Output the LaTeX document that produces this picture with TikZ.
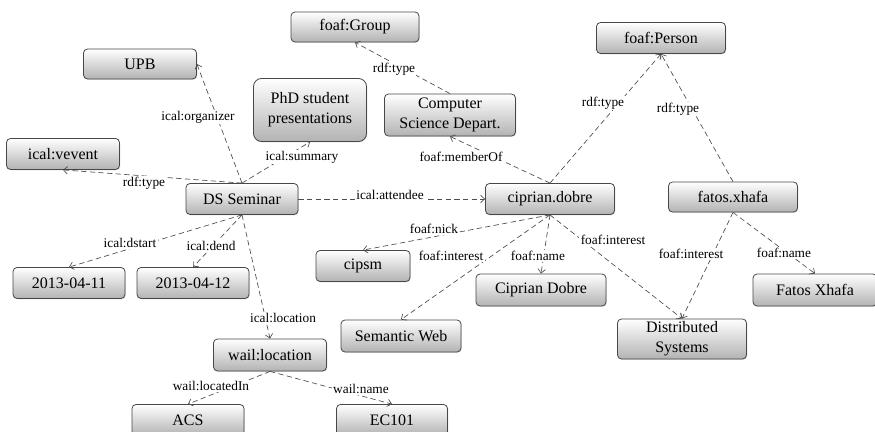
\documentclass[tikz,border=0pt]{standalone}
\usepackage{fontspec}
\setmainfont{Liberation Serif}
\usetikzlibrary{arrows.meta,shadows}
\tikzset{
  box/.style={draw=black!72, line width=0.6pt, rounded corners=3pt,
    top color=white, bottom color=black!30, align=center, inner sep=0pt,
    font=\fontsize{12}{15}\selectfont,
    drop shadow={opacity=0.25, shadow xshift=0.6pt, shadow yshift=-0.6pt}},
  lbl/.style={fill=white, inner sep=1pt, font=\fontsize{10}{11}\selectfont},
  link/.style={draw=black!70, line width=0.5pt, dash pattern=on 4pt off 2.5pt,
    -{Straight Barb[length=3pt,width=5.5pt]}},
}
\begin{document}
\begin{tikzpicture}[x=0.75pt,y=-0.75pt]
\useasboundingbox (0,0) rectangle (875,432);

% resources and literals
\node[box, minimum width=96pt, minimum height=22.5pt] (group) at (355,27) {foaf:Group};
\node[box, minimum width=84.75pt, minimum height=22.5pt] (upb) at (140,64) {UPB};
\node[box, rounded corners=6pt, minimum width=84.75pt, minimum height=47.25pt] (phd) at (310,110) {PhD student\\presentations};
\node[box, minimum width=98.25pt, minimum height=31.5pt] (cs) at (450,115) {Computer\\Science Depart.};
\node[box, minimum width=84.75pt, minimum height=23.25pt] (vevent) at (63,154) {ical:vevent};
\node[box, minimum width=84pt, minimum height=23.25pt] (ds) at (242,199) {DS Seminar};
\node[box, minimum width=96.75pt, minimum height=23.25pt] (person) at (661,38) {foaf:Person};
\node[box, minimum width=96.75pt, minimum height=23.25pt] (cd) at (550,199) {ciprian.dobre};
\node[box, minimum width=96.75pt, minimum height=22.5pt] (fx) at (733,197) {fatos.xhafa};
\node[box, minimum width=84pt, minimum height=23.25pt] (d1) at (69,283) {2013-04-11};
\node[box, minimum width=84pt, minimum height=23.25pt] (d2) at (193,283) {2013-04-12};
\node[box, minimum width=84.75pt, minimum height=24pt] (wl) at (270,355) {wail:location};
\node[box, minimum width=70.5pt, minimum height=23.25pt] (cipsm) at (363,266) {cipsm};
\node[box, minimum width=90pt, minimum height=24pt] (sw) at (401,336) {Semantic Web};
\node[box, minimum width=84pt, minimum height=23.25pt] (acs) at (188,420) {ACS};
\node[box, minimum width=83.25pt, minimum height=23.25pt] (ec) at (392,420) {EC101};
\node[box, minimum width=97.5pt, minimum height=24pt] (cdn) at (541,290) {Ciprian Dobre};
\node[box, minimum width=96.75pt, minimum height=30pt] (dsys) at (682,339) {Distributed\\Systems};
\node[box, minimum width=93pt, minimum height=24pt] (fxn) at (815,290) {Fatos Xhafa};

% properties
\draw[link] (ds.north) -- (upb.east);
\draw[link] (ds.north) -- (phd.south);
\draw[link] (ds.north) -- (vevent.south);
\draw[link] (ds.east) -- (cd.west);
\draw[link] (cs.north) -- (group.south);
\draw[link] (cd.north) -- (cs.south);
\draw[link] (cd.north) -- (person.south);
\draw[link] (fx.north) -- (person.south);
\draw[link] (cd.south) -- (cipsm.north);
\draw[link] (cd.south) -- (sw.north);
\draw[link] (cd.south) -- (cdn.north);
\draw[link] (cd.south) -- (dsys.north);
\draw[link] (fx.south) -- (dsys.north);
\draw[link] (fx.south) -- (fxn.north);
\draw[link] (ds.south) -- (d1.north);
\draw[link] (ds.south) -- (d2.north);
\draw[link] (ds.south) -- (wl.north);
\draw[link] (wl.south) -- (acs.north);
\draw[link] (wl.south) -- (ec.north);

% property labels
\node[lbl] (l1) at (198,117) {ical:organizer};
\node[lbl] (l2) at (302,157) {ical:summary};
\node[lbl] (l3) at (144,183) {rdf:type};
\node[lbl] (l4) at (390,195) {ical:attendee};
\node[lbl] (l5) at (394,69) {rdf:type};
\node[lbl] (l6) at (461,157) {foaf:memberOf};
\node[lbl] (l7) at (603,103) {rdf:type};
\node[lbl] (l8) at (678,109) {rdf:type};
\node[lbl] (l9) at (434,229) {foaf:nick};
\node[lbl] (l10) at (451,256) {foaf:interest};
\node[lbl] (l11) at (538,256) {foaf:name};
\node[lbl] (l12) at (613,240) {foaf:interest};
\node[lbl] (l13) at (691,254) {foaf:interest};
\node[lbl] (l14) at (784,253) {foaf:name};
\node[lbl] (l15) at (130,243) {ical:dstart};
\node[lbl] (l16) at (211,246) {ical:dend};
\node[lbl] (l17) at (283,318) {ical:location};
\node[lbl] (l18) at (211,386) {wail:locatedIn};
\node[lbl] (l19) at (361,389) {wail:name};
\end{tikzpicture}
\end{document}
